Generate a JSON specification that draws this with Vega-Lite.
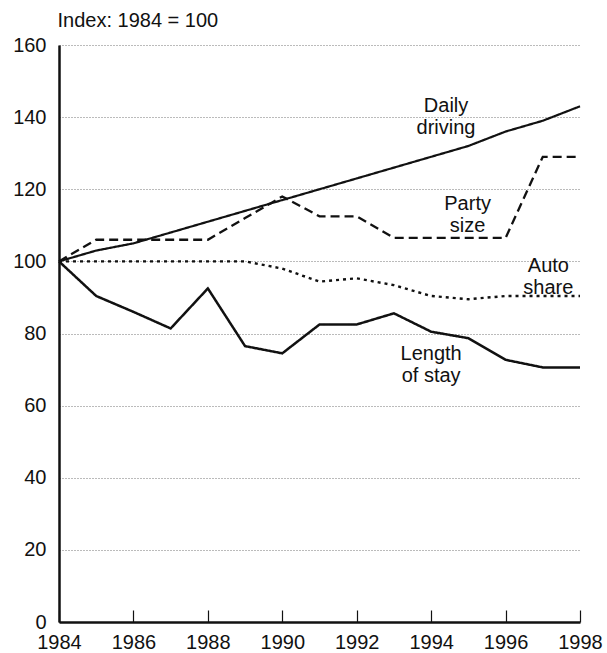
{
  "$schema": "https://vega.github.io/schema/vega-lite/v6.json",
  "width": 521,
  "height": 577,
  "autosize": {"type": "none"},
  "padding": {"left": 59, "top": 45, "right": 27, "bottom": 31},
  "background": "white",
  "config": {
    "view": {"stroke": null},
    "font": "Liberation Sans",
    "axis": {"labelFont": "Liberation Sans", "titleFont": "Liberation Sans"}
  },
  "datasets": {
    "series": [
      {"year": 1984, "series": "Daily driving", "value": 100},
      {"year": 1985, "series": "Daily driving", "value": 103},
      {"year": 1986, "series": "Daily driving", "value": 105},
      {"year": 1987, "series": "Daily driving", "value": 108},
      {"year": 1988, "series": "Daily driving", "value": 111},
      {"year": 1989, "series": "Daily driving", "value": 114},
      {"year": 1990, "series": "Daily driving", "value": 117},
      {"year": 1991, "series": "Daily driving", "value": 120},
      {"year": 1992, "series": "Daily driving", "value": 123},
      {"year": 1993, "series": "Daily driving", "value": 126},
      {"year": 1994, "series": "Daily driving", "value": 129},
      {"year": 1995, "series": "Daily driving", "value": 132},
      {"year": 1996, "series": "Daily driving", "value": 136},
      {"year": 1997, "series": "Daily driving", "value": 139},
      {"year": 1998, "series": "Daily driving", "value": 143},
      {"year": 1984, "series": "Party size", "value": 100},
      {"year": 1985, "series": "Party size", "value": 106},
      {"year": 1986, "series": "Party size", "value": 106},
      {"year": 1987, "series": "Party size", "value": 106},
      {"year": 1988, "series": "Party size", "value": 106},
      {"year": 1989, "series": "Party size", "value": 112},
      {"year": 1990, "series": "Party size", "value": 118},
      {"year": 1991, "series": "Party size", "value": 112.5},
      {"year": 1992, "series": "Party size", "value": 112.5},
      {"year": 1993, "series": "Party size", "value": 106.5},
      {"year": 1994, "series": "Party size", "value": 106.5},
      {"year": 1995, "series": "Party size", "value": 106.5},
      {"year": 1996, "series": "Party size", "value": 106.5},
      {"year": 1997, "series": "Party size", "value": 129},
      {"year": 1998, "series": "Party size", "value": 129},
      {"year": 1984, "series": "Auto share", "value": 100},
      {"year": 1985, "series": "Auto share", "value": 100},
      {"year": 1986, "series": "Auto share", "value": 100},
      {"year": 1987, "series": "Auto share", "value": 100},
      {"year": 1988, "series": "Auto share", "value": 100},
      {"year": 1989, "series": "Auto share", "value": 100},
      {"year": 1990, "series": "Auto share", "value": 98},
      {"year": 1991, "series": "Auto share", "value": 94.4},
      {"year": 1992, "series": "Auto share", "value": 95.3},
      {"year": 1993, "series": "Auto share", "value": 93.4},
      {"year": 1994, "series": "Auto share", "value": 90.4},
      {"year": 1995, "series": "Auto share", "value": 89.5},
      {"year": 1996, "series": "Auto share", "value": 90.4},
      {"year": 1997, "series": "Auto share", "value": 90.4},
      {"year": 1998, "series": "Auto share", "value": 90.4},
      {"year": 1984, "series": "Length of stay", "value": 100},
      {"year": 1985, "series": "Length of stay", "value": 90.4},
      {"year": 1986, "series": "Length of stay", "value": 86},
      {"year": 1987, "series": "Length of stay", "value": 81.4},
      {"year": 1988, "series": "Length of stay", "value": 92.5},
      {"year": 1989, "series": "Length of stay", "value": 76.5},
      {"year": 1990, "series": "Length of stay", "value": 74.5},
      {"year": 1991, "series": "Length of stay", "value": 82.5},
      {"year": 1992, "series": "Length of stay", "value": 82.5},
      {"year": 1993, "series": "Length of stay", "value": 85.6},
      {"year": 1994, "series": "Length of stay", "value": 80.5},
      {"year": 1995, "series": "Length of stay", "value": 78.7},
      {"year": 1996, "series": "Length of stay", "value": 72.7},
      {"year": 1997, "series": "Length of stay", "value": 70.6},
      {"year": 1998, "series": "Length of stay", "value": 70.6}
    ],
    "labels": [
      {"label": "Daily\ndriving", "year": 1994.4, "value": 143.2},
      {"label": "Party\nsize", "year": 1994.98, "value": 116.0},
      {"label": "Auto\nshare", "year": 1997.15, "value": 98.8},
      {"label": "Length\nof stay", "year": 1994.0, "value": 74.3}
    ]
  },
  "layer": [
    {
      "data": {"name": "series"},
      "mark": {"type": "line", "color": "#111111", "strokeCap": "butt", "strokeJoin": "miter", "clip": false},
      "encoding": {
        "x": {
          "field": "year", "type": "quantitative",
          "scale": {"domain": [1984, 1998], "nice": false, "zero": false},
          "axis": {
            "values": [1984, 1986, 1988, 1990, 1992, 1994, 1996, 1998],
            "format": "d", "title": null, "grid": false,
            "domainColor": "#111111", "domainWidth": 2.5,
            "tickColor": "#111111", "tickWidth": 1.2, "tickSize": -12,
            "labelFontSize": 20, "labelColor": "#111111", "labelPadding": 22,
            "labelFlush": false
          }
        },
        "y": {
          "field": "value", "type": "quantitative",
          "scale": {"domain": [0, 160], "nice": false},
          "axis": {
            "values": [0, 20, 40, 60, 80, 100, 120, 140, 160],
            "title": "Index: 1984 = 100",
            "titleAngle": 0, "titleAlign": "left", "titleBaseline": "middle",
            "titleX": -2, "titleY": -25, "titleFontSize": 20, "titleFontWeight": "normal", "titleColor": "#111111",
            "ticks": false, "labelPadding": 13,
            "labelFontSize": 20, "labelColor": "#111111",
            "domainColor": "#111111", "domainWidth": 2.5,
            "grid": true, "gridColor": "#777777", "gridDash": [1, 2], "gridWidth": 1
          }
        },
        "detail": {"field": "series"},
        "strokeDash": {
          "field": "series", "type": "nominal",
          "scale": {"domain": ["Daily driving", "Party size", "Auto share", "Length of stay"], "range": [[1, 0], [9, 5], [3, 4], [1, 0]]},
          "legend": null
        },
        "strokeWidth": {
          "field": "series", "type": "nominal",
          "scale": {"domain": ["Daily driving", "Party size", "Auto share", "Length of stay"], "range": [2.2, 2.5, 2.5, 4]},
          "legend": null
        }
      }
    },
    {
      "data": {"name": "labels"},
      "mark": {"type": "text", "fontSize": 20, "lineBreak": "\n", "lineHeight": 22, "align": "center", "baseline": "middle", "color": "#111111"},
      "encoding": {
        "x": {"field": "year", "type": "quantitative"},
        "y": {"field": "value", "type": "quantitative"},
        "text": {"field": "label"}
      }
    }
  ]
}
